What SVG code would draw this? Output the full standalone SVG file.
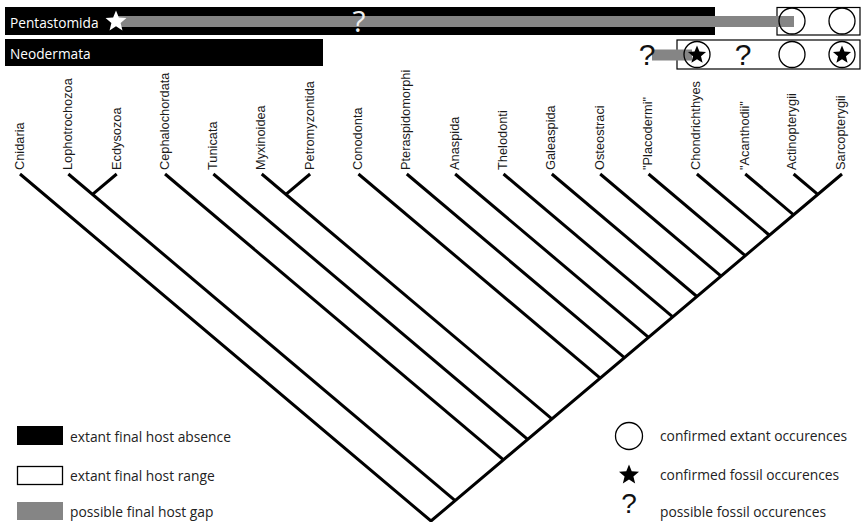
<svg xmlns="http://www.w3.org/2000/svg" width="863" height="522" viewBox="0 0 863 522">
<defs>
<style>
.lbl{font-family:"Liberation Sans",Arial,sans-serif;font-size:12.8px;fill:#1a1a1a}
.bar{font-family:"Open Sans","Noto Sans",sans-serif;font-size:13.7px;fill:#fff}
.leg{font-family:"Open Sans","Noto Sans",sans-serif;font-size:13.8px;fill:#222}
.q{font-family:"Liberation Sans",Arial,sans-serif;fill:#111;text-anchor:middle}
.br{stroke:#000;stroke-width:3;fill:none}
.ring{fill:none;stroke:#000;stroke-width:1.3}
.box{fill:none;stroke:#000;stroke-width:1.2}
.gap{fill:#858585}
</style>
<path id="star" d="M0,-10 L2.6,-3.6 L9.511,-3.090 L4.2,1.4 L5.878,8.090 L0,4.4 L-5.878,8.090 L-4.2,1.4 L-9.511,-3.090 L-2.6,-3.6 Z"/>
</defs>
<rect width="863" height="522" fill="#fff"/>

<g id="row-pentastomida">
<rect x="5" y="7" width="710" height="28" fill="#000"/>
<rect x="777" y="7.5" width="83" height="27.5" class="box"/>
<rect x="118" y="16" width="676" height="11" class="gap"/>
<circle cx="792" cy="21" r="13" class="ring"/>
<circle cx="842" cy="21" r="13" class="ring"/>
<use href="#star" transform="translate(116,21.5) scale(1.1)" fill="#fff"/>
<text x="359" y="31.5" font-family="Open Sans, Noto Sans, sans-serif" font-size="30" fill="#eee" text-anchor="middle">?</text>
<text x="10" y="28" class="bar">Pentastomida</text>
</g>

<g id="row-neodermata">
<rect x="5" y="39" width="318" height="27" fill="#000"/>
<text x="10" y="59" class="bar">Neodermata</text>
<rect x="677" y="40" width="183" height="29" class="box"/>
<rect x="652" y="49.5" width="40" height="11" class="gap"/>
<text x="647" y="65" class="q" font-size="30">?</text>
<circle cx="697" cy="54.5" r="13" class="ring"/>
<use href="#star" transform="translate(697,55) scale(0.95)" fill="#000"/>
<text x="743" y="65" class="q" font-size="30">?</text>
<circle cx="792" cy="54.5" r="13" class="ring"/>
<circle cx="842" cy="54.5" r="13" class="ring"/>
<use href="#star" transform="translate(842,55) scale(0.95)" fill="#000"/>
</g>

<g id="connectors">
<path class="br" d="M20,174 L431,521 L842,174"/>
<path class="br" d="M68.35,174 L455.18,500.6"/>
<path class="br" d="M116.7,174 L92.5,194.4"/>
<path class="br" d="M165.05,174 L503.53,459.8"/>
<path class="br" d="M213.4,174 L527.7,439.4"/>
<path class="br" d="M261.75,174 L551.88,418.95"/>
<path class="br" d="M310.1,174 L285.9,194.4"/>
<path class="br" d="M358.45,174 L600.23,378.1"/>
<path class="br" d="M406.8,174 L624.4,357.7"/>
<path class="br" d="M455.15,174 L648.58,337.3"/>
<path class="br" d="M503.5,174 L672.75,316.9"/>
<path class="br" d="M551.85,174 L696.93,296.5"/>
<path class="br" d="M600.2,174 L721.1,276.1"/>
<path class="br" d="M648.55,174 L745.28,255.7"/>
<path class="br" d="M696.9,174 L769.45,235.25"/>
<path class="br" d="M745.25,174 L793.63,214.85"/>
<path class="br" d="M793.6,174 L817.8,194.4"/>
</g>

<g id="taxa">
<g id="t-cnidaria"><text class="lbl" transform="translate(23.5,170) rotate(-90)">Cnidaria</text></g>
<g id="t-lophotrochozoa"><text class="lbl" transform="translate(72,170) rotate(-90)">Lophotrochozoa</text></g>
<g id="t-ecdysozoa"><text class="lbl" transform="translate(120.5,170) rotate(-90)">Ecdysozoa</text></g>
<g id="t-cephalochordata"><text class="lbl" transform="translate(168.5,170) rotate(-90)">Cephalochordata</text></g>
<g id="t-tunicata"><text class="lbl" transform="translate(217,170) rotate(-90)">Tunicata</text></g>
<g id="t-myxinoidea"><text class="lbl" transform="translate(265,170) rotate(-90)">Myxinoidea</text></g>
<g id="t-petromyzontida"><text class="lbl" transform="translate(313.5,170) rotate(-90)">Petromyzontida</text></g>
<g id="t-conodonta"><text class="lbl" transform="translate(362,170) rotate(-90)">Conodonta</text></g>
<g id="t-pteraspidomorphi"><text class="lbl" transform="translate(410,170) rotate(-90)">Pteraspidomorphi</text></g>
<g id="t-anaspida"><text class="lbl" transform="translate(458.5,170) rotate(-90)">Anaspida</text></g>
<g id="t-thelodonti"><text class="lbl" transform="translate(507,170) rotate(-90)">Thelodonti</text></g>
<g id="t-galeaspida"><text class="lbl" transform="translate(555,170) rotate(-90)">Galeaspida</text></g>
<g id="t-osteostraci"><text class="lbl" transform="translate(603.5,170) rotate(-90)">Osteostraci</text></g>
<g id="t-placodermi"><text class="lbl" transform="translate(652,170) rotate(-90)">"Placodermi"</text></g>
<g id="t-chondrichthyes"><text class="lbl" transform="translate(700,170) rotate(-90)">Chondrichthyes</text></g>
<g id="t-acanthodii"><text class="lbl" transform="translate(748.5,170) rotate(-90)">"Acanthodii"</text></g>
<g id="t-actinopterygii"><text class="lbl" transform="translate(796,170) rotate(-90)">Actinopterygii</text></g>
<g id="t-sarcopterygii"><text class="lbl" transform="translate(845,170) rotate(-90)">Sarcopterygii</text></g>
</g>

<g id="legend-left">
<rect x="17" y="426" width="46" height="19" fill="#000"/>
<text x="70" y="442" class="leg">extant final host absence</text>
<rect x="17.5" y="466.5" width="45" height="18" fill="#fff" stroke="#000" stroke-width="1.3"/>
<text x="70" y="481" class="leg">extant final host range</text>
<rect x="17" y="502" width="46" height="18" class="gap"/>
<text x="70" y="517" class="leg">possible final host gap</text>
</g>

<g id="legend-right">
<circle cx="629" cy="436" r="13.5" class="ring"/>
<text x="660" y="441" class="leg">confirmed extant occurences</text>
<use href="#star" transform="translate(629,475) scale(1.05)" fill="#000"/>
<text x="660" y="480" class="leg">confirmed fossil occurences</text>
<text x="629" y="513" class="q" font-size="28">?</text>
<text x="660" y="517" class="leg">possible fossil occurences</text>
</g>
</svg>
